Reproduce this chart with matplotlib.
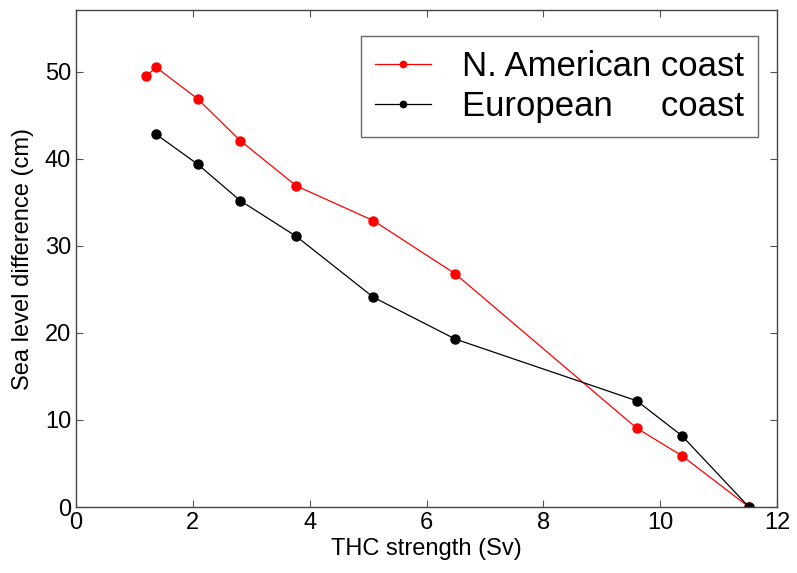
import matplotlib
matplotlib.use("Agg")
import matplotlib.pyplot as plt

thc_na = [1.19, 1.375, 2.08, 2.81, 3.77, 5.09, 6.49, 9.6, 10.37, 11.52]
sl_na = [49.5, 50.5, 46.9, 42.1, 36.9, 32.9, 26.8, 9.05, 5.9, 0.0]
thc_eu = [1.375, 2.08, 2.81, 3.77, 5.09, 6.49, 9.6, 10.37, 11.52]
sl_eu = [42.8, 39.4, 35.2, 31.1, 24.1, 19.3, 12.2, 8.2, 0.0]

plt.rcParams["font.family"] = ["Liberation Sans", "DejaVu Sans"]

fig = plt.figure(figsize=(7.97, 5.73), dpi=100)
ax = fig.add_axes([76 / 797, 1 - 507 / 573, (777 - 76) / 797, (507 - 10) / 573])

ax.plot(thc_na, sl_na, color="red", lw=0.9, marker="o", ms=6.5, label="N. American coast")
ax.plot(thc_eu, sl_eu, color="black", lw=0.9, marker="o", ms=6.5, label="European     coast")

ax.set_xlim(0, 12)
ax.set_ylim(0, 57.1)
ax.set_xticks(range(0, 13, 2))
ax.set_yticks(range(0, 51, 10))
ax.tick_params(direction="in", top=True, right=True, labelsize=17, length=5, width=0.8, color="#555555")
for s in ax.spines.values():
    s.set_color("#444444")
    s.set_linewidth(1.0)

ax.set_xlabel("THC strength (Sv)", fontsize=17, labelpad=3)
ax.set_ylabel("Sea level difference (cm)", fontsize=17, labelpad=8)

leg = ax.legend(loc="upper right", bbox_to_anchor=(682 / 701, 471 / 497), fontsize=25,
                frameon=True, fancybox=False, handlelength=1.6, handletextpad=0.9,
                borderpad=0.4, borderaxespad=0, labelspacing=0.2, markerscale=0.7)
leg.get_frame().set_edgecolor("#444444")
leg.get_frame().set_linewidth(1.0)

fig.savefig("out.png", dpi=100)
